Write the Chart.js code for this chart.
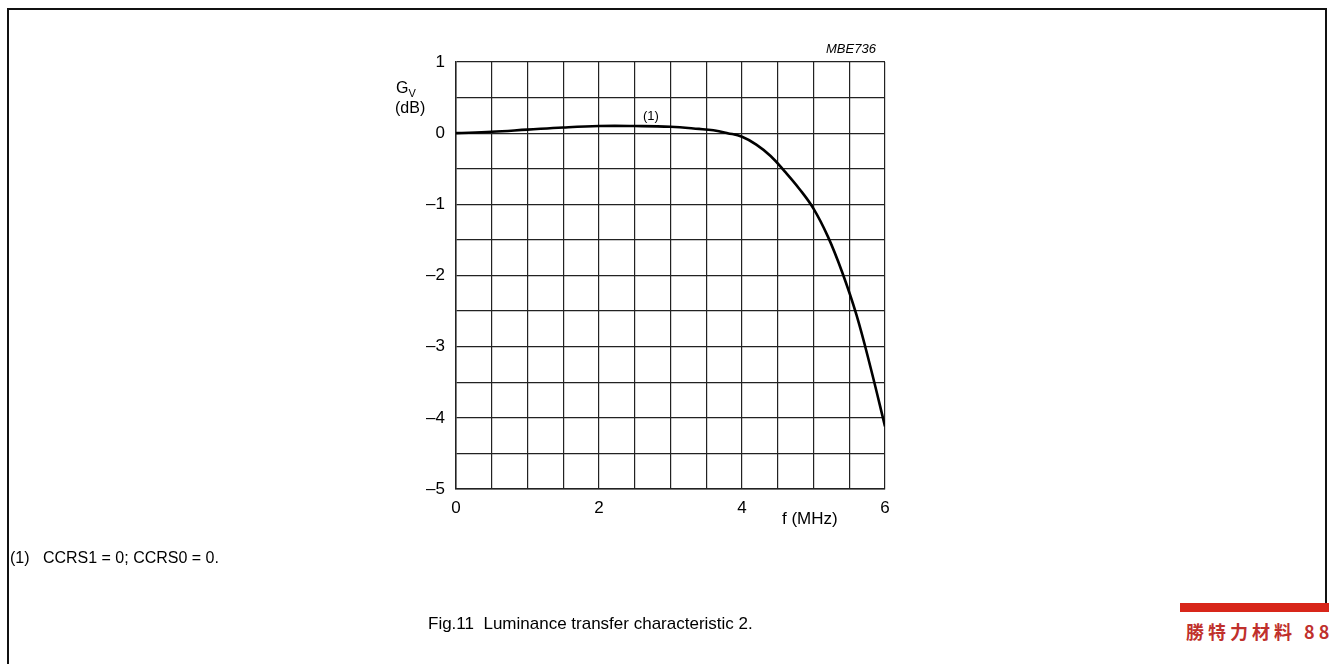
<!DOCTYPE html>
<html>
<head>
<meta charset="utf-8">
<script src="https://cdn.jsdelivr.net/npm/chart.js@4.4.1/dist/chart.umd.min.js"></script>
<style>
  html, body { margin:0; padding:0; background:#fff; }
  body { width:1329px; height:664px; position:relative; overflow:hidden; font-family:"Liberation Sans", Arial, sans-serif; }
  #wrap { position:absolute; left:0; top:0; width:1329px; height:664px; }
  .t { position:absolute; color:#000; white-space:nowrap; line-height:1; }
  #frame { position:absolute; left:7px; top:8px; width:1320px; height:700px; border:2px solid #111; box-sizing:border-box; }
  #banner { position:absolute; left:1180px; top:603px; width:149px; height:61px; background:#fff; border-top:9px solid #d8261a; box-sizing:border-box; overflow:hidden; }
  #banner span { position:absolute; left:6px; top:6px; font-family:"Noto Sans CJK TC","Noto Sans CJK SC",serif; font-weight:bold; font-size:18px; color:#c0302c; white-space:nowrap; letter-spacing:4px; }
</style>
</head>
<body>
<div id="frame"></div>
<div id="wrap"><canvas id="c" width="1329" height="664"></canvas></div>

<div class="t" style="left:396px;top:80px;font-size:16px;">G<sub style="font-size:11px;vertical-align:-4px;">V</sub></div>
<div class="t" style="left:395px;top:100px;font-size:16px;">(dB)</div>
<div class="t" style="left:826px;top:42px;font-size:13px;font-style:italic;">MBE736</div>
<div class="t" style="left:643px;top:109px;font-size:13px;">(1)</div>
<div class="t" style="left:782px;top:510px;font-size:17px;">f (MHz)</div>
<div class="t" style="left:10px;top:550px;font-size:16px;">(1)&nbsp;&nbsp;&nbsp;CCRS1 = 0; CCRS0 = 0.</div>
<div class="t" style="left:428px;top:615px;font-size:17px;">Fig.11&nbsp;&nbsp;Luminance transfer characteristic 2.</div>
<div id="banner"><span>勝特力材料 886-3-575317</span></div>

<script>
// Frequency (MHz)
const freqs = [0, 0.5, 1, 1.5, 2, 2.5, 3, 3.4, 3.6, 3.8, 4.0, 4.2, 4.4, 4.6, 4.8, 5.0, 5.2, 5.4, 5.6, 5.8, 6.0];
// Gain Gv (dB)
const gains = [0, 0.02, 0.05, 0.08, 0.1, 0.1, 0.09, 0.06, 0.04, 0.0, -0.05, -0.16, -0.32, -0.54, -0.78, -1.06, -1.45, -1.95, -2.55, -3.3, -4.12];
// Axis labels
const xTickLabels = [0, 2, 4, 6];
const yTickLabels = [1, 0, -1, -2, -3, -4, -5];

const pts = freqs.map((f, i) => ({x: f, y: gains[i]}));

new Chart(document.getElementById('c'), {
  type: 'line',
  data: { datasets: [{ data: pts, borderColor:'#000', borderWidth:2.6, pointRadius:0, fill:false, tension:0.4 }] },
  options: {
    responsive:false, animation:false,
    layout: { padding: { left:396, right:444, top:62, bottom:135 } },
    plugins: { legend:{display:false}, tooltip:{enabled:false} },
    scales: {
      x: {
        type:'linear', min:0, max:6,
        afterFit: s => { s.height = 40; },
        ticks: { stepSize:0.5, autoSkip:false, maxRotation:0, padding:9, color:'#000', font:{family:'Liberation Sans', size:17},
          callback: v => xTickLabels.includes(v) ? String(v) : '' },
        grid: { color:'#222', lineWidth:1.2, drawTicks:false },
        border: { color:'#222', width:1.5 }
      },
      y: {
        type:'linear', min:-5, max:1,
        afterFit: s => { s.width = 60; },
        ticks: { stepSize:0.5, autoSkip:false, padding:11, color:'#000', font:{family:'Liberation Sans', size:17},
          callback: v => yTickLabels.includes(v) ? (v < 0 ? '\u2013' + Math.abs(v) : String(v)) : '' },
        grid: { color:'#222', lineWidth:1.2, drawTicks:false },
        border: { color:'#222', width:1.5 }
      }
    }
  }
});
</script>
</body>
</html>
